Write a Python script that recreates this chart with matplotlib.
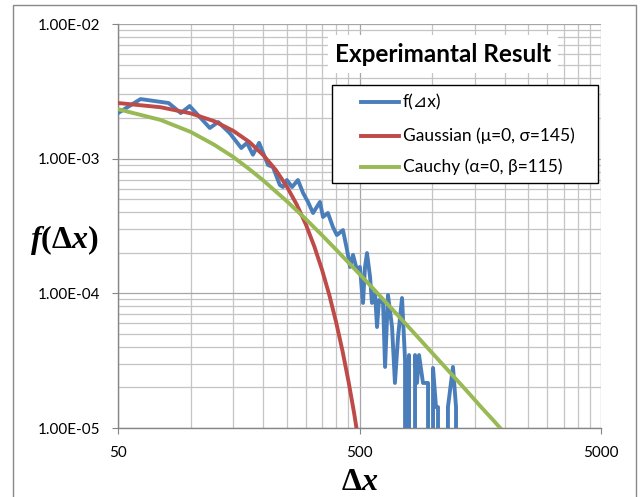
import matplotlib
matplotlib.use("Agg")
import matplotlib.pyplot as plt
from matplotlib.ticker import FixedLocator, FuncFormatter, NullFormatter
from matplotlib.patches import Rectangle
from matplotlib.lines import Line2D

# measured f(dx), 0 = empty bin (Excel drops the line to the floor)
exp_x = [50, 62, 81, 91, 99, 109, 120, 130, 145, 162, 171, 181, 192, 209, 219,
         234, 241, 250, 263, 278, 292, 306, 321, 343, 353, 370, 388, 403, 427,
         444, 457, 470, 488, 502, 517, 527, 537, 553, 563, 580, 591, 602, 626,
         638, 656, 682, 701, 722, 750, 772, 786, 802, 833, 849, 865, 882, 916,
         961, 989, 1008, 1037, 1057, 1077, 1140, 1162, 1219, 1255, 1279]
exp_y = [2.18e-3, 2.77e-3, 2.59e-3, 2.18e-3, 2.46e-3, 2.04e-3, 1.69e-3, 1.87e-3,
         1.55e-3, 1.20e-3, 1.31e-3, 1.07e-3, 1.31e-3, 8.97e-4, 8.67e-4, 6.37e-4,
         6.16e-4, 6.94e-4, 6.16e-4, 6.94e-4, 5.56e-4, 4.77e-4, 3.95e-4, 4.77e-4,
         3.69e-4, 3.95e-4, 3.11e-4, 2.71e-4, 2.95e-4, 2.10e-4, 1.57e-4, 1.93e-4,
         1.49e-4, 1.57e-4, 8.48e-5, 1.57e-4, 1.99e-4, 1.32e-4, 8.48e-5, 1.00e-4,
         5.62e-5, 8.92e-5, 8.48e-5, 2.84e-5, 9.72e-5, 5.62e-5, 2.16e-5, 4.74e-5,
         9.23e-5, 3.20e-5, 0, 3.48e-5, 0, 3.48e-5, 2.16e-5, 3.48e-5, 2.16e-5,
         2.16e-5, 0, 2.79e-5, 1.43e-5, 1.43e-5, 0, 0, 1.43e-5, 2.84e-5, 1.43e-5, 0]

gauss_x = [50, 75, 100, 125, 150, 175, 200, 225, 250, 275, 300, 325, 350, 375,
           400, 425, 450, 475, 500]
gauss_y = [2.59e-3, 2.41e-3, 2.17e-3, 1.90e-3, 1.61e-3, 1.33e-3, 1.06e-3, 8.25e-4,
           6.22e-4, 4.55e-4, 3.24e-4, 2.23e-4, 1.49e-4, 9.71e-5, 6.12e-5, 3.75e-5,
           2.23e-5, 1.29e-5, 7.2e-6]

cauchy_x = [50, 75, 100, 125, 150, 175, 200, 250, 300, 350, 400, 500, 600, 700,
            800, 1000, 1200, 1400, 1600, 1800, 2000]
cauchy_y = [2.33e-3, 1.94e-3, 1.58e-3, 1.27e-3, 1.03e-3, 8.35e-4, 6.88e-4, 4.83e-4,
            3.55e-4, 2.70e-4, 2.11e-4, 1.39e-4, 9.81e-5, 7.27e-5, 5.60e-5, 3.61e-5,
            2.52e-5, 1.86e-5, 1.42e-5, 1.13e-5, 9.12e-6]

labels = ["f(\u22bfx)", "Gaussian (\u03bc=0, \u03c3=145)", "Cauchy (\u03b1=0, \u03b2=115)"]
colors = ["#4A7EBB", "#BE4B48", "#98B954"]

plt.rcParams['font.family'] = ['Lato', 'DejaVu Sans']
plt.rcParams['mathtext.fontset'] = 'custom'
plt.rcParams['mathtext.rm'] = 'Liberation Serif:bold'
plt.rcParams['mathtext.it'] = 'Liberation Serif:italic:bold'

W, H = 640, 497
fig = plt.figure(figsize=(6.4, 4.97), dpi=100)
ax = fig.add_axes([118/W, 1-428/H, 483/W, 404/H])

# outer chart border
fig.patches.append(Rectangle((13/W, -0.02), 623/W, 1.0 - 5/H + 0.02,
                             transform=fig.transFigure, fill=False,
                             edgecolor="#898989", lw=1.0))

lines = []
for xs, ys, c, lab, z in [(exp_x, exp_y, colors[0], labels[0], 3),
                          (gauss_x, gauss_y, colors[1], labels[1], 4),
                          (cauchy_x, cauchy_y, colors[2], labels[2], 5)]:
    ln, = ax.plot(xs, ys, color=c, lw=2.8, label=lab, zorder=z)
    lines.append(ln)

ax.set_xscale('log')
ax.set_yscale('log', nonpositive='clip')
ax.set_xlim(50, 5000)
ax.set_ylim(1e-5, 1e-2)

ax.xaxis.set_major_locator(FixedLocator([50, 500, 5000]))
ax.xaxis.set_minor_locator(FixedLocator([50*k for k in range(2, 10)] + [500*k for k in range(2, 10)]))
ax.xaxis.set_major_formatter(FuncFormatter(lambda v, p: f"{v:g}"))
ax.xaxis.set_minor_formatter(NullFormatter())
ax.yaxis.set_major_locator(FixedLocator([1e-5, 1e-4, 1e-3, 1e-2]))
ax.yaxis.set_minor_locator(FixedLocator([k*10.0**e for e in range(-5, -2) for k in range(2, 10)]))
ax.yaxis.set_major_formatter(FuncFormatter(lambda v, p: f"{v:.2E}"))
ax.yaxis.set_minor_formatter(NullFormatter())

ax.grid(True, which='major', color="#A6A6A6", lw=0.9)
ax.grid(True, which='minor', color="#C4C4C4", lw=0.9)
ax.set_axisbelow(True)
for s in ['top', 'right']:
    ax.spines[s].set_visible(False)
for s in ['left', 'bottom']:
    ax.spines[s].set_color("#868686")
    ax.spines[s].set_linewidth(1.0)
ax.tick_params(which='major', length=4, color="#868686", labelsize=11)
ax.tick_params(which='minor', length=0)
ax.tick_params(axis='y', pad=9)
ax.tick_params(axis='x', pad=9)

ax.set_ylabel(r"$f(\Delta x)$", fontsize=23, rotation=0, va='center', ha='center')
ax.yaxis.set_label_coords(-54/483, (428-240)/404)
ax.set_xlabel(r"$\Delta x$", fontsize=23, va='center')
ax.xaxis.set_label_coords(0.5, -(481-428)/404)

fig.text(443/W, 1-54/H, "Experimantal Result", ha='center', va='center',
         fontsize=17.5, fontweight='bold',
         bbox=dict(facecolor='white', edgecolor='none', pad=5))

# legend box drawn the Excel way: wide left gap before the line samples
fig.patches.append(Rectangle((332/W, 1-183/H), 266/W, 98/H, transform=fig.transFigure,
                             facecolor='white', edgecolor='black', lw=1.0, zorder=10))
for ln, yy in zip(lines, [102, 136, 167]):
    fig.add_artist(Line2D([361/W, 399/W], [1-yy/H, 1-yy/H], color=ln.get_color(),
                          lw=ln.get_linewidth(), transform=fig.transFigure, zorder=11))
    fig.text(403/W, 1-yy/H, ln.get_label(), va='center', ha='left', fontsize=12.5, zorder=11)

fig.savefig("out.png", dpi=100)
